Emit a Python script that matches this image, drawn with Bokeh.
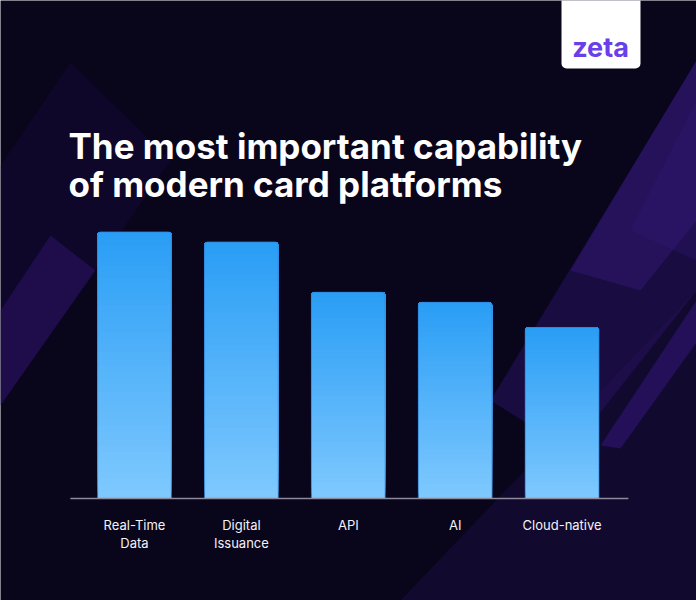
from bokeh.plotting import figure
from bokeh.models import Range1d, ColumnDataSource
from bokeh.core.properties import value
from bokeh.embed import file_html
from bokeh.resources import INLINE

# ---- data ----
categories = ["Real-Time\nData", "Digital\nIssuance", "API", "AI", "Cloud-native"]
values = [53, 51, 41, 39, 34]
title_lines = ["The most important capability", "of modern card platforms"]
brand = "zeta"

W, H = 696, 600
BG = "#09051a"

p = figure(width=W, height=H, x_range=Range1d(0, W), y_range=Range1d(H, 0),
           x_axis_type=None, y_axis_type=None, min_border=0,
           output_backend="svg", toolbar_location=None,
           background_fill_color=BG, border_fill_color=BG, outline_line_color=None)
p.grid.visible = False

# data ranges (bars / baseline / labels)
step = 106.9
x0 = 134.0
p.extra_x_ranges = {"cat": Range1d(-x0 / step, (W - x0) / step)}
ppu = 5.03
base_px = 498
p.extra_y_ranges = {"val": Range1d(-(H - base_px) / ppu, base_px / ppu)}

# ---- background decoration (pixel coords) ----
# soft lower-right glow
p.patch([696, 400, 696], [290, 600, 600], fill_color="#1c0d44", fill_alpha=0.5, line_color=None)
# right wedge
p.patch([696, 490, 570, 696], [60, 400, 450, 290], fill_color="#24105a", fill_alpha=0.6, line_color=None)
p.patch([696, 570, 640, 696], [60, 270, 290, 220], fill_color="#361a7c", fill_alpha=0.45, line_color=None)
p.patch([696, 630, 696], [100, 230, 260], fill_color="#361a7c", fill_alpha=0.3, line_color=None)
# right stripe
p.patch([696, 600, 620, 696], [300, 445, 448, 342], fill_color="#2e1470", fill_alpha=0.65, line_color=None)
# left band
p.patch([0, 70, 170, 0], [165, 62, 160, 405], fill_color="#1e0c48", fill_alpha=0.35, line_color=None)
p.patch([0, 50, 95, 0], [310, 235, 270, 405], fill_color="#2a1160", fill_alpha=0.6, line_color=None)

# ---- bars with vertical gradient (layered) ----
N = 40
top_c = (0x2a, 0x9e, 0xf5)
bot_c = (0x7e, 0xc8, 0xfe)
xs, bots, tops, cols = [], [], [], []
for i, v in enumerate(values):
    for k in range(N):
        t = k / (N - 1)
        c = tuple(round(bot_c[j] + (top_c[j] - bot_c[j]) * t) for j in range(3))
        xs.append(i)
        bots.append(v * k / N)
        tops.append(v)
        cols.append("#%02x%02x%02x" % c)
src = ColumnDataSource(dict(x=xs, bottom=bots, top=tops, color=cols))
p.vbar(x="x", bottom="bottom", top="top", width=0.69, source=src,
       fill_color="color", line_color=None,
       x_range_name="cat", y_range_name="val", border_radius=(3, 3, 0, 0))
p.vbar(x=list(range(len(values))), bottom=0, top=values, width=0.69,
       fill_color=None, line_color="#2f7fd6", line_alpha=0.7, line_width=1,
       x_range_name="cat", y_range_name="val", border_radius=(3, 3, 0, 0))

# baseline (axis line)
p.segment(x0=[-0.6], x1=[4.62], y0=[0], y1=[0], line_color="#8d8a9c", line_width=1.5,
          x_range_name="cat", y_range_name="val")

# category labels
p.text(x=list(range(len(categories))), y=[516] * len(categories), text=categories,
       x_range_name="cat", text_align="center", text_baseline="top",
       text_font=value("Inter"), text_font_size="13px", text_color="#f2f2f8",
       text_line_height=1.15)

# title
p.text(x=[68, 68], y=[145, 183], text=title_lines, text_align="left", text_baseline="alphabetic",
       text_font=value("Inter"), text_font_style="bold", text_font_size="35px", text_color="#ffffff")

# logo box
p.quad(left=[561], right=[640], top=[-10], bottom=[68], fill_color="#ffffff", line_color=None,
       border_radius=5)
p.text(x=[600], y=[47], text=[brand], text_align="center", text_baseline="alphabetic",
       text_font=value("Inter"), text_font_style="bold", text_font_size="27px", text_color="#6a3ee8")

open("out.html", "w").write(file_html(p, INLINE))
